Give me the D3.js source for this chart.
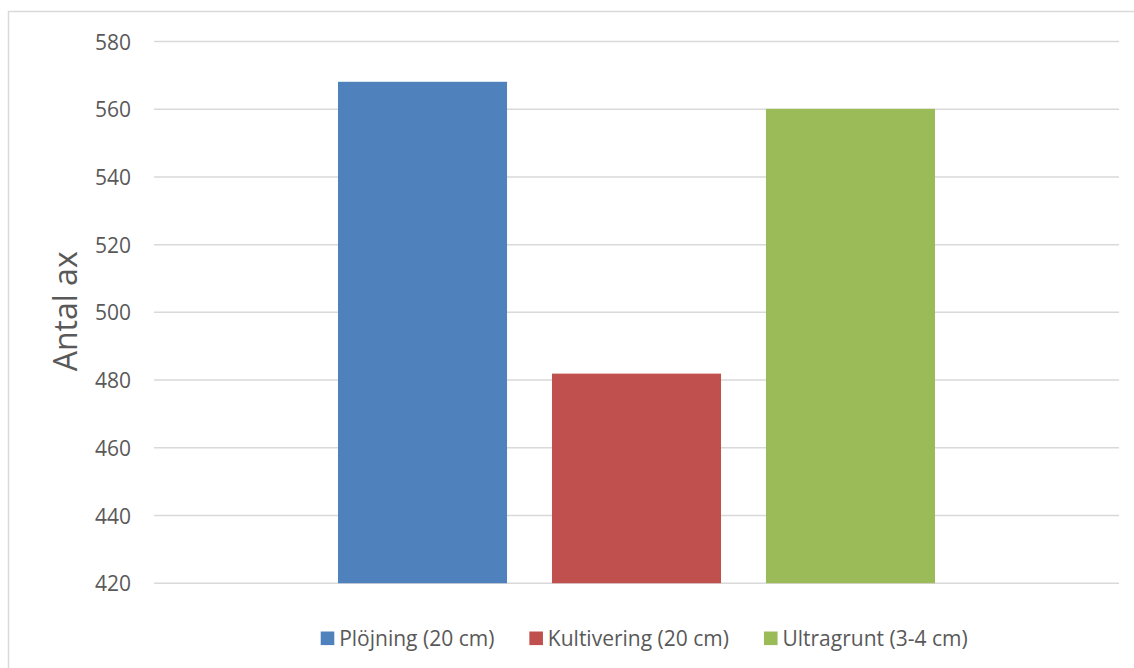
<!DOCTYPE html>
<html>
<head>
<meta charset="utf-8">
<script src="https://cdn.jsdelivr.net/npm/d3@7"></script>
<style>
  html, body { margin: 0; padding: 0; background: #fff; }
  svg { display: block; }
  text { font-family: "Open Sans", "Liberation Sans", sans-serif; fill: #595959; }
</style>
</head>
<body>
<svg id="chart" width="1134" height="668"></svg>
<script>
// Antal ax per jordbearbetningsmetod
const categories = ["Antal ax"];
const series = ["Plöjning (20 cm)", "Kultivering (20 cm)", "Ultragrunt (3-4 cm)"];
const values = [568.1, 481.9, 560.1];
const colors = ["#4F81BD", "#C0504D", "#9BBB59"];
const yTicks = [420, 440, 460, 480, 500, 520, 540, 560, 580];
const yTitle = "Antal ax";

const svg = d3.select("#chart");
const W = 1134, H = 668;
const plot = { left: 154, right: 1119, top: 41.5, bottom: 583.2 };

// chart frame
svg.append("rect")
  .attr("x", 8.5).attr("y", 11.5)
  .attr("width", W + 10).attr("height", H + 10)
  .attr("fill", "none").attr("stroke", "#d9d9d9").attr("stroke-width", 1.5);

const y = d3.scaleLinear().domain([420, 580]).range([plot.bottom, plot.top]);

const x0 = d3.scaleBand().domain(categories)
  .range([plot.left, plot.right]).paddingInner(0).paddingOuter(0.2516);
const x1 = d3.scaleBand().domain(series)
  .range([0, x0.bandwidth()]).paddingInner(0.21).paddingOuter(0.105);

// gridlines
svg.append("g").selectAll("line").data(yTicks).join("line")
  .attr("x1", plot.left).attr("x2", plot.right)
  .attr("y1", d => y(d)).attr("y2", d => y(d))
  .attr("stroke", "#d9d9d9").attr("stroke-width", 1.5);

// y axis tick labels
const yAxis = d3.axisLeft(y).tickValues(yTicks).tickSize(0).tickPadding(0);
const gy = svg.append("g").attr("transform", `translate(131,0)`).call(yAxis);
gy.select(".domain").remove();
gy.selectAll("text")
  .attr("font-family", '"Open Sans", "Liberation Sans", sans-serif')
  .attr("font-size", 21).attr("fill", "#595959").attr("dy", "0.36em");

// bars
const rows = series.map((s, i) => ({ cat: categories[0], s, v: values[i], c: colors[i] }));
svg.append("g").selectAll("rect").data(rows).join("rect")
  .attr("x", d => x0(d.cat) + x1(d.s))
  .attr("width", x1.bandwidth())
  .attr("y", d => y(d.v))
  .attr("height", d => y(420) - y(d.v))
  .attr("fill", d => d.c);

// y axis title
svg.append("text")
  .attr("transform", `translate(77,${(plot.top + plot.bottom) / 2 - 1}) rotate(-90)`)
  .attr("text-anchor", "middle")
  .attr("font-size", 32)
  .text(yTitle);

// legend
const lg = svg.append("g").attr("transform", "translate(0,638)");
let lx = 320.7;
series.forEach((s, i) => {
  lg.append("rect").attr("x", lx).attr("y", -6.5).attr("width", 13.6).attr("height", 13.6)
    .attr("fill", colors[i]);
  const t = lg.append("text").attr("x", lx + 18.5).attr("y", 0).attr("dy", "0.36em")
    .attr("font-size", 21).text(s);
  lx += 18.5 + t.node().getComputedTextLength() + 35;
});
</script>
</body>
</html>
